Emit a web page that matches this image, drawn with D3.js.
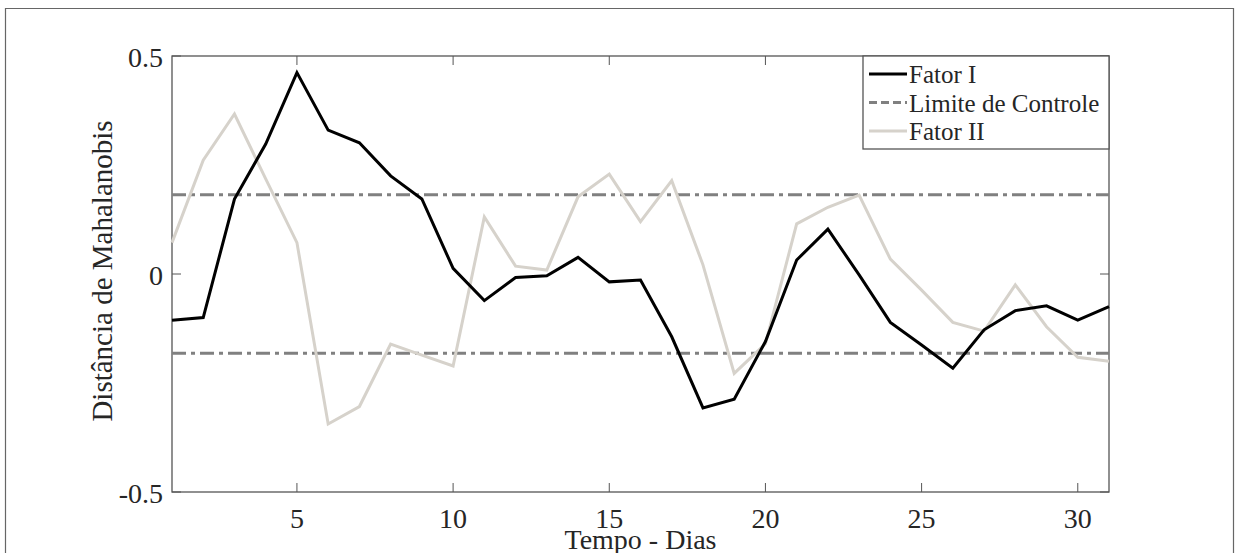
<!DOCTYPE html>
<html>
<head>
<meta charset="utf-8">
<script src="https://cdn.jsdelivr.net/npm/d3@7"></script>
<style>
  body { margin: 0; background: #fff; }
  svg { display: block; }
  text { font-family: "Liberation Serif", "Times New Roman", serif; fill: #262626; }
</style>
</head>
<body>
<div id="target"></div>
<script>
// data
const days = d3.range(1, 32)
const fatorI = [-0.106, -0.100, 0.172, 0.298, 0.462, 0.330, 0.301, 0.225, 0.172, 0.013,
  -0.061, -0.008, -0.004, 0.038, -0.018, -0.014, -0.144, -0.307, -0.287, -0.155,
  0.032, 0.103, -0.002, -0.111, -0.163, -0.216, -0.128, -0.084, -0.073, -0.106, -0.075]
const fatorII = [0.072, 0.261, 0.367, 0.218, 0.072, -0.344, -0.304, -0.161, -0.186, -0.211,
  0.131, 0.018, 0.009, 0.177, 0.229, 0.120, 0.214, 0.021, -0.228, -0.160,
  0.115, 0.153, 0.181, 0.034, -0.037, -0.111, -0.131, -0.025, -0.121, -0.191, -0.200]
const limits = [0.182, -0.182]
const xTicks = [5, 10, 15, 20, 25, 30]
const yTicks = [-0.5, 0, 0.5]
const yTickLabels = ["-0.5", "0", "0.5"]
const legendNames = ["Fator I", "Limite de Controle", "Fator II"]

const W = 1235, H = 553
const mLeft = 172, mTop = 56, pw = 937, ph = 436
const axisColor = "#555"

const svg = d3.select("#target").append("svg")
  .attr("width", W).attr("height", H)

// outer figure frame (bottom edge is cut off)
svg.append("path")
  .attr("d", "M5.5," + H + "V8.5H1233.5V" + H)
  .attr("fill", "none").attr("stroke", "#666").attr("stroke-width", 1.2)

const x = d3.scaleLinear().domain([1, 31]).range([mLeft, mLeft + pw])
const y = d3.scaleLinear().domain([-0.5, 0.5]).range([mTop + ph, mTop])

const g = svg.append("g")

// plot box
g.append("rect")
  .attr("x", mLeft).attr("y", mTop).attr("width", pw).attr("height", ph)
  .attr("fill", "none").attr("stroke", axisColor).attr("stroke-width", 1.3)

// ticks (inward, mirrored)
const tickLen = 9
g.selectAll(".xt").data(xTicks).enter().append("path")
  .attr("d", d => `M${x(d)},${mTop + ph}v${-tickLen}M${x(d)},${mTop}v${tickLen}`)
  .attr("stroke", axisColor).attr("stroke-width", 1)
g.selectAll(".yt").data(yTicks).enter().append("path")
  .attr("d", d => `M${mLeft},${y(d)}h${tickLen}M${mLeft + pw},${y(d)}h${-tickLen}`)
  .attr("stroke", axisColor).attr("stroke-width", 1)

// tick labels
g.selectAll(".xl").data(xTicks).enter().append("text")
  .attr("x", d => x(d)).attr("y", mTop + ph + 36)
  .attr("text-anchor", "middle").attr("font-size", 28)
  .text(d => d)
g.selectAll(".yl").data(yTicks).enter().append("text")
  .attr("x", mLeft - 9).attr("y", d => y(d) + 11)
  .attr("text-anchor", "end").attr("font-size", 28)
  .text((d, i) => yTickLabels[i])

// axis titles
svg.append("text")
  .attr("x", mLeft + pw / 2).attr("y", 549)
  .attr("text-anchor", "middle").attr("font-size", 28)
  .text("Tempo - Dias")
svg.append("text")
  .attr("transform", `translate(112,${mTop + ph / 2 - 3}) rotate(-90)`)
  .attr("text-anchor", "middle").attr("font-size", 29)
  .text("Distância de Mahalanobis")

const plot = g.append("g")

// control limits
const dash = "14,5,4,5"
plot.selectAll(".lim").data(limits).enter().append("line")
  .attr("x1", mLeft).attr("x2", mLeft + pw)
  .attr("y1", d => y(d)).attr("y2", d => y(d))
  .attr("stroke", "#808080").attr("stroke-width", 3)
  .attr("stroke-dasharray", dash)

const line = d3.line()
  .x((d, i) => x(days[i]))
  .y(d => y(d))

plot.append("path")
  .attr("d", line(fatorII))
  .attr("fill", "none").attr("stroke", "#d6d2cb").attr("stroke-width", 3)
  .attr("stroke-linejoin", "miter")

plot.append("path")
  .attr("d", line(fatorI))
  .attr("fill", "none").attr("stroke", "#000").attr("stroke-width", 3)
  .attr("stroke-linejoin", "miter")

// legend
const lx = 863, ly = 56, lw = 246, lh = 93
const legend = svg.append("g")
legend.append("rect")
  .attr("x", lx).attr("y", ly).attr("width", lw).attr("height", lh)
  .attr("fill", "#fff").attr("stroke", axisColor).attr("stroke-width", 1.3)

const legendStyles = [
  { stroke: "#000", dash: null },
  { stroke: "#808080", dash: "8,4" },
  { stroke: "#d6d2cb", dash: null }
]
const rowY = d3.scaleLinear().domain([0, 2]).range([ly + 18, ly + 75])

legend.selectAll(".li").data(legendNames).enter().append("line")
  .attr("x1", 869).attr("x2", 907)
  .attr("y1", (d, i) => rowY(i)).attr("y2", (d, i) => rowY(i))
  .attr("stroke", (d, i) => legendStyles[i].stroke)
  .attr("stroke-width", 3)
  .attr("stroke-dasharray", (d, i) => legendStyles[i].dash)

legend.selectAll(".lt").data(legendNames).enter().append("text")
  .attr("x", 909).attr("y", (d, i) => rowY(i) + 9)
  .attr("font-size", 25)
  .text(d => d)
</script>
</body>
</html>
